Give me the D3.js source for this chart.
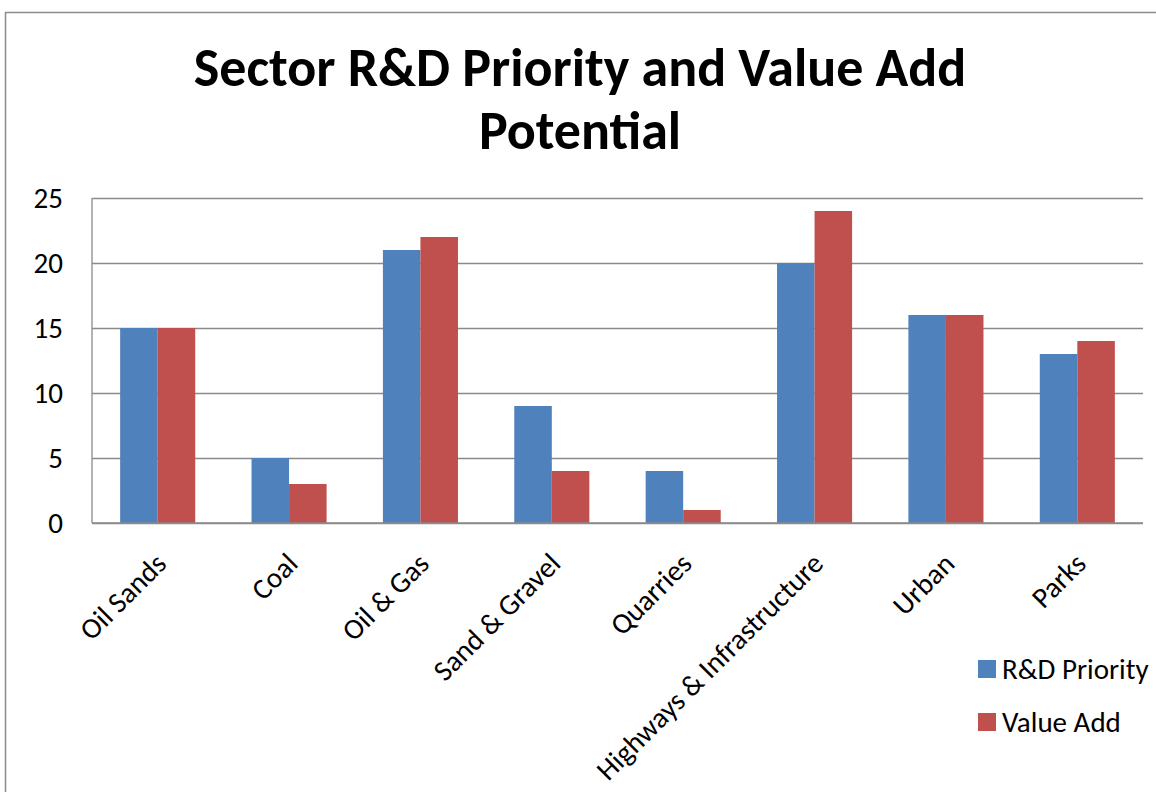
<!DOCTYPE html>
<html>
<head>
<meta charset="utf-8">
<script src="https://cdn.jsdelivr.net/npm/d3@7"></script>
<style>
  body { margin: 0; background: #fff; }
  svg text { font-family: Carlito, Calibri, Lato, "Open Sans", sans-serif; fill: #000; }
  .grid line { stroke: #8a8a8a; stroke-width: 1.3; }
  .grid .domain { display: none; }
</style>
</head>
<body>
<div id="chart"></div>
<script>
var categories = ["Oil Sands", "Coal", "Oil & Gas", "Sand & Gravel", "Quarries", "Highways & Infrastructure", "Urban", "Parks"];
var rdPriority = [15, 5, 21, 9, 4, 20, 16, 13];
var valueAdd = [15, 3, 22, 4, 1, 24, 16, 14];
var seriesNames = ["R&D Priority", "Value Add"];
var seriesColors = ["#4f81bd", "#c0504d"];
var yTicks = [0, 5, 10, 15, 20, 25];

(function () {
  'use strict'

  var W = 1156, H = 792;
  var margin = {top: 198, right: 13, bottom: 269, left: 92};
  var width = W - margin.left - margin.right;
  var height = H - margin.top - margin.bottom;
  var fontSz = "29px";

  var svg = d3.select("#chart").append("svg")
    .attr("width", W)
    .attr("height", H);

  // outer chart border
  svg.append("rect")
    .attr("x", 5.5).attr("y", 12.5)
    .attr("width", W + 20).attr("height", H + 20)
    .attr("fill", "#fff")
    .attr("stroke", "#8c8c8c")
    .attr("stroke-width", 1.5);

  // title
  var title = svg.append("text")
    .attr("text-anchor", "middle")
    .attr("font-weight", "bold")
    .attr("font-size", "54px");
  title.append("tspan").attr("x", 580).attr("y", 86).text("Sector R&D Priority and Value Add");
  title.append("tspan").attr("x", 580).attr("y", 149).text("Potential");

  var g = svg.append("g")
    .attr("transform", "translate(" + margin.left + "," + margin.top + ")");

  var x0 = d3.scaleBand().domain(categories).range([0, width]).paddingInner(0).paddingOuter(0);
  var barW = x0.bandwidth() / 3.5;
  var y = d3.scaleLinear().domain([0, 25]).range([height, 0]);

  // gridlines
  g.append("g")
    .attr("class", "grid")
    .call(d3.axisLeft(y).tickValues(yTicks).tickSize(-width).tickFormat(""));

  // left axis line
  g.append("line")
    .attr("x1", 0).attr("x2", 0).attr("y1", 0).attr("y2", height)
    .attr("stroke", "#8a8a8a").attr("stroke-width", 1.3);

  // y tick labels
  g.selectAll(".ylab")
    .data(yTicks)
    .enter().append("text")
    .attr("class", "ylab")
    .attr("x", -29)
    .attr("y", function(d){ return y(d); })
    .attr("dy", "0.35em")
    .attr("text-anchor", "end")
    .attr("font-size", fontSz)
    .text(function(d){ return d; });

  var seriesData = [rdPriority, valueAdd];
  seriesData.forEach(function(vals, si){
    g.append("g").selectAll("rect")
      .data(vals)
      .enter().append("rect")
      .attr("x", function(d, i){ return x0(categories[i]) + barW * 0.75 + si * barW; })
      .attr("y", function(d){ return y(d); })
      .attr("width", barW)
      .attr("height", function(d){ return height - y(d); })
      .attr("fill", seriesColors[si]);
  });

  // bottom axis line
  g.append("line")
    .attr("x1", 0).attr("x2", width).attr("y1", height).attr("y2", height)
    .attr("stroke", "#8a8a8a").attr("stroke-width", 1.3);

  // rotated category labels
  g.selectAll(".xlab")
    .data(categories)
    .enter().append("text")
    .attr("class", "xlab")
    .attr("text-anchor", "end")
    .attr("font-size", fontSz)
    .attr("transform", function(d){
      var cx = x0(d) + x0.bandwidth() / 2;
      return "translate(" + (cx - 4) + "," + (height + 28) + ") rotate(-45)";
    })
    .attr("dy", "0.7em")
    .text(function(d){ return d; });

  // legend
  var legend = svg.append("g")
    .attr("transform", "translate(978,660)");
  seriesNames.forEach(function(name, i){
    var lg = legend.append("g").attr("transform", "translate(0," + (i * 53) + ")");
    lg.append("rect").attr("width", 18).attr("height", 18).attr("fill", seriesColors[i]);
    lg.append("text")
      .attr("x", 24).attr("y", 9).attr("dy", "0.35em")
      .attr("font-size", fontSz)
      .text(name);
  });
})()
</script>
</body>
</html>
